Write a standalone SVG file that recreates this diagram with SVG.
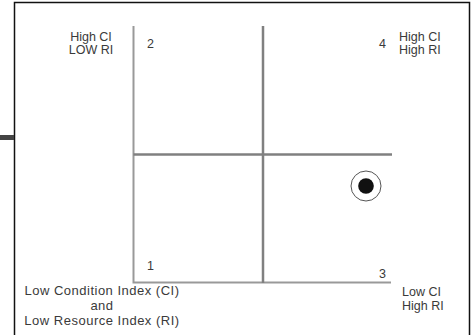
<svg xmlns="http://www.w3.org/2000/svg" width="471" height="335" viewBox="0 0 471 335">
<style>
text{font-family:"Liberation Sans",Arial,sans-serif;font-size:12.5px;fill:#3a3a3a}
.big{font-size:13px;letter-spacing:0.5px}
.ax{stroke:#999;stroke-width:2;fill:none}
.mid{stroke:#808080;stroke-width:2.5;fill:none}
</style>
<rect width="471" height="335" fill="#fff"/>
<g id="frame">
<path d="M14.5,335V2.5H469.5V335" fill="none" stroke="#111" stroke-width="1.5"/>
<rect x="0" y="135" width="14" height="5" fill="#444"/>
</g>
<g id="connectors">
<path class="ax" d="M133.5,26V282.5H391"/>
<path class="mid" d="M263,26V283"/>
<path class="mid" d="M133.5,154.5H392"/>
</g>
<g id="q2">
<text x="91" y="41" text-anchor="middle">High CI</text>
<text x="91" y="54" text-anchor="middle">LOW RI</text>
<text x="147" y="48">2</text>
</g>
<g id="q4">
<text x="379" y="48">4</text>
<text x="399" y="41">High CI</text>
<text x="399" y="54">High RI</text>
</g>
<g id="q1">
<text x="147" y="270">1</text>
<text class="big" x="102" y="295" text-anchor="middle">Low Condition Index (CI)</text>
<text class="big" x="102" y="310" text-anchor="middle">and</text>
<text class="big" x="102" y="325" text-anchor="middle">Low Resource Index (RI)</text>
</g>
<g id="q3">
<text x="379" y="278">3</text>
<text x="402" y="296">Low CI</text>
<text x="402" y="310">High RI</text>
</g>
<g id="marker">
<circle cx="366" cy="186" r="15" fill="none" stroke="#555" stroke-width="1"/>
<circle cx="366" cy="186" r="7.8" fill="#111"/>
</g>
</svg>
